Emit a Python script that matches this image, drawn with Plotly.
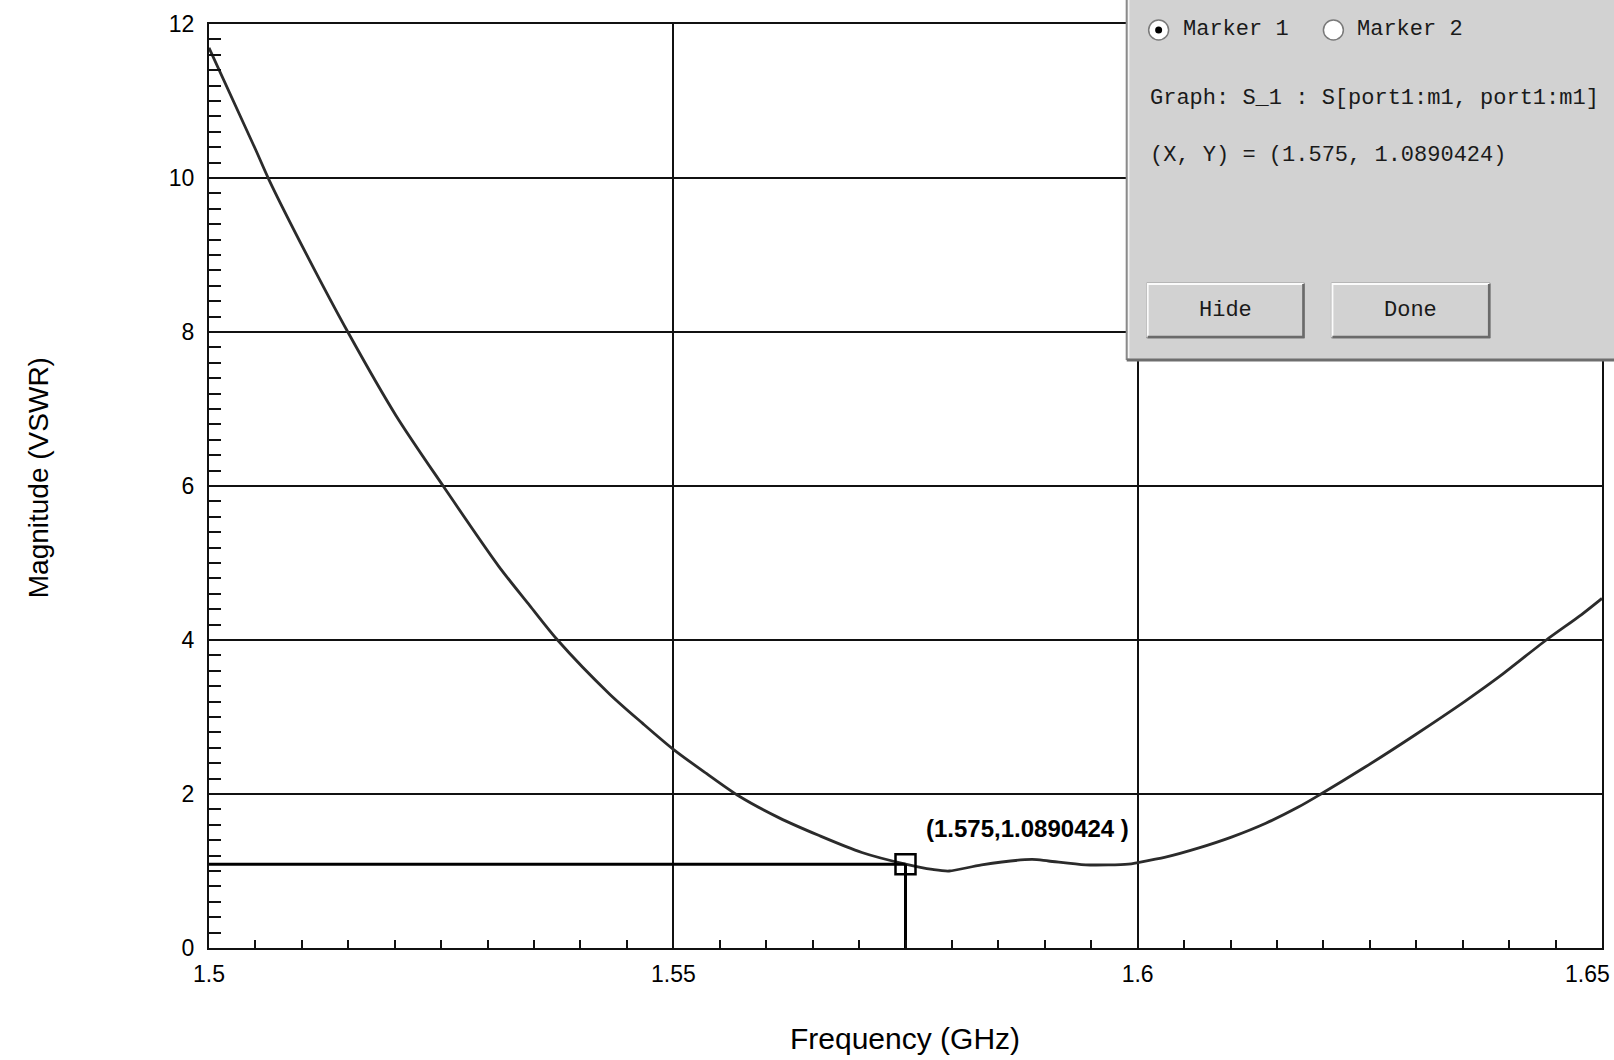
import plotly.graph_objects as go

# VSWR sweep of the port-1 reflection
freq_ghz = [1.5, 1.50505, 1.50645, 1.51075, 1.51495, 1.52011, 1.52527, 1.53118,
            1.53452, 1.53753, 1.54312, 1.54667, 1.55, 1.55352, 1.5571, 1.5614,
            1.5657, 1.5703, 1.575, 1.5779, 1.5797, 1.5832, 1.5886, 1.5904,
            1.5944, 1.599, 1.6, 1.603, 1.6066, 1.6101, 1.6138, 1.6173, 1.6196,
            1.6245, 1.6299, 1.6352, 1.6389, 1.644, 1.6478, 1.65]
vswr = [11.69, 10.36, 9.98, 8.95, 8.0, 6.92, 5.99, 4.96,
        4.45, 4.0, 3.30, 2.92, 2.58, 2.27, 1.97, 1.69,
        1.46, 1.24, 1.089, 1.02, 1.00, 1.08, 1.15, 1.13,
        1.08, 1.09, 1.11, 1.18, 1.30, 1.44, 1.62, 1.83, 1.99,
        2.35, 2.77, 3.20, 3.52, 4.0, 4.33, 4.54]

marker_x = 1.575
marker_y = 1.0890424
marker_label = "(1.575,1.0890424 )"

x_ticks = [1.5, 1.55, 1.6, 1.65]
x_tick_text = ["1.5", "1.55", "1.6", "1.65"]
y_ticks = [0, 2, 4, 6, 8, 10, 12]

x_title = "Frequency (GHz)"
y_title = "Magnitude (VSWR)"

dialog_graph = "Graph: S_1 : S[port1:m1, port1:m1]"
dialog_xy = "(X, Y) = (1.575, 1.0890424)"
radio_labels = ["Marker 1", "Marker 2"]
button_labels = ["Hide", "Done"]

W, H = 1614, 1060
L, R, T, B = 209, 1604, 24, 948

def px_x(x):
    return (x - L) / (R - L)

def px_y(y):
    return (B - y) / (B - T)

SANS = "Liberation Sans, Arial, sans-serif"
MONO = "Liberation Mono, DejaVu Sans Mono, Courier New, monospace"
INK = "#111111"
TICK_FONT = dict(family=SANS, size=23, color="black")

fig = go.Figure()

fig.add_trace(go.Scatter(
    x=freq_ghz, y=vswr, mode="lines",
    line=dict(color="#2b2b2b", width=2.8, shape="spline", smoothing=0.8),
    hoverinfo="skip", showlegend=False))

# marker guide lines and marker box
fig.add_trace(go.Scatter(
    x=[freq_ghz[0], marker_x], y=[marker_y, marker_y], mode="lines",
    line=dict(color="black", width=3), showlegend=False, hoverinfo="skip"))
fig.add_trace(go.Scatter(
    x=[marker_x, marker_x], y=[0, marker_y], mode="lines",
    line=dict(color="black", width=3), showlegend=False, hoverinfo="skip"))
fig.add_trace(go.Scatter(
    x=[marker_x], y=[marker_y], mode="markers",
    marker=dict(symbol="square-open", size=20, color="black",
                line=dict(color="black", width=2.5)),
    showlegend=False, hoverinfo="skip"))

fig.add_annotation(x=1.5881, y=1.55, xref="x", yref="y", text=f"<b>{marker_label}</b>",
                   xanchor="center", yanchor="middle", showarrow=False,
                   font=dict(family=SANS, size=24, color="black"))

# the last frequency label sits flush with the right edge of the window
fig.add_annotation(x=x_ticks[-1], y=px_y(974), xref="x", yref="paper",
                   text=x_tick_text[-1], xanchor="right", xshift=10, yanchor="middle",
                   showarrow=False, font=TICK_FONT)

# axis titles
fig.add_annotation(x=px_x(906), y=px_y(1038), xref="paper", yref="paper", text=x_title,
                   xanchor="center", yanchor="middle", showarrow=False,
                   font=dict(family=SANS, size=30, color="black"))
fig.add_annotation(x=px_x(39), y=px_y(478), xref="paper", yref="paper", text=y_title,
                   textangle=-90, xanchor="center", yanchor="middle", showarrow=False,
                   font=dict(family=SANS, size=28, color="black"))

# marker dialog panel
shapes = []
px0, py1 = 1128, 360
shapes.append(dict(type="rect", xref="paper", yref="paper", layer="above",
                   x0=px_x(px0), x1=px_x(W + 20), y0=px_y(py1), y1=px_y(-20),
                   fillcolor="#d2d2d2", line=dict(width=0)))
shapes.append(dict(type="line", xref="paper", yref="paper", layer="above",
                   x0=px_x(px0), x1=px_x(px0), y0=px_y(py1), y1=px_y(-20),
                   line=dict(color="#8a8a8a", width=2)))
shapes.append(dict(type="line", xref="paper", yref="paper", layer="above",
                   x0=px_x(px0 + 2), x1=px_x(px0 + 2), y0=px_y(py1 - 2), y1=px_y(-20),
                   line=dict(color="#f4f4f4", width=1.5)))
shapes.append(dict(type="line", xref="paper", yref="paper", layer="above",
                   x0=px_x(px0), x1=px_x(W + 20), y0=px_y(py1), y1=px_y(py1),
                   line=dict(color="#6e6e6e", width=3)))

text_font = dict(family=MONO, size=22, color="#1a1a1a")

# radio buttons
radio_cx = [1160, 1335]
for i, cx in enumerate(radio_cx):
    cy = 30
    shapes.append(dict(type="circle", xref="paper", yref="paper", layer="above",
                       x0=px_x(cx - 10), x1=px_x(cx + 10), y0=px_y(cy + 10), y1=px_y(cy - 10),
                       fillcolor="white", line=dict(color="#7a7a7a", width=1.5)))
    if i == 0:
        shapes.append(dict(type="circle", xref="paper", yref="paper", layer="above",
                           x0=px_x(cx - 3.5), x1=px_x(cx + 3.5), y0=px_y(cy + 3.5),
                           y1=px_y(cy - 3.5), fillcolor="black", line=dict(width=0)))
    fig.add_annotation(x=px_x(cx + 22), y=px_y(cy), xref="paper", yref="paper",
                       text=radio_labels[i], showarrow=False, xanchor="left",
                       yanchor="middle", font=text_font)

fig.add_annotation(x=px_x(1149), y=px_y(98), xref="paper", yref="paper", text=dialog_graph,
                   showarrow=False, xanchor="left", yanchor="middle", font=text_font)
fig.add_annotation(x=px_x(1149), y=px_y(155), xref="paper", yref="paper", text=dialog_xy,
                   showarrow=False, xanchor="left", yanchor="middle", font=text_font)

# push buttons
buttons = [(1148, 1306), (1333, 1492)]
by0, by1 = 283, 338
for (bx0, bx1), label in zip(buttons, button_labels):
    shapes.append(dict(type="rect", xref="paper", yref="paper", layer="above",
                       x0=px_x(bx0), x1=px_x(bx1), y0=px_y(by1), y1=px_y(by0),
                       fillcolor="#d2d2d2", line=dict(color="#9a9a9a", width=1)))
    shapes.append(dict(type="path", xref="paper", yref="paper", layer="above",
                       path=f"M {px_x(bx0+1)},{px_y(by1-1)} L {px_x(bx0+1)},{px_y(by0+1)} L {px_x(bx1-1)},{px_y(by0+1)}",
                       line=dict(color="#fbfbfb", width=2)))
    shapes.append(dict(type="path", xref="paper", yref="paper", layer="above",
                       path=f"M {px_x(bx0+1)},{px_y(by1-1)} L {px_x(bx1-1)},{px_y(by1-1)} L {px_x(bx1-1)},{px_y(by0+1)}",
                       line=dict(color="#6a6a6a", width=2.5)))
    fig.add_annotation(x=px_x((bx0 + bx1) / 2), y=px_y(311), xref="paper", yref="paper",
                       text=label, showarrow=False, xanchor="center", yanchor="middle",
                       font=text_font)

axis_common = dict(
    showline=True, linecolor=INK, linewidth=2, mirror=True,
    showgrid=True, gridcolor=INK, gridwidth=1.5, zeroline=False,
    tickfont=TICK_FONT,
    ticks="inside", tickcolor=INK, tickwidth=2,
)

fig.update_layout(
    width=W, height=H, autosize=False,
    margin=dict(l=L, r=W - R, t=T, b=H - B),
    paper_bgcolor="white", plot_bgcolor="white",
    showlegend=False, shapes=shapes,
    xaxis=dict(range=[1.5, 1.65], tickmode="array", tickvals=x_ticks[:-1],
               ticktext=x_tick_text[:-1], ticklen=8, ticklabelstandoff=4,
               minor=dict(tickmode="linear", tick0=1.5, dtick=0.005, ticks="inside",
                          ticklen=8, tickwidth=2, tickcolor=INK, showgrid=False),
               **axis_common),
    yaxis=dict(range=[0, 12], tickmode="array", tickvals=y_ticks, ticklen=12,
               ticklabelstandoff=8,
               minor=dict(tickmode="linear", tick0=0, dtick=0.2, ticks="inside",
                          ticklen=12, tickwidth=2, tickcolor=INK, showgrid=False),
               **axis_common),
)

fig.write_html("out.html")
